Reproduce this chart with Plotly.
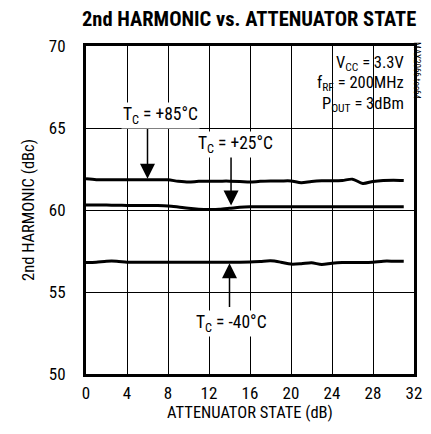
import plotly.graph_objects as go

# attenuator state (dB)
atten = list(range(32))

# 2nd harmonic (dBc) per case temperature
h2_85 = [61.9, 61.85, 61.85, 61.85, 61.85, 61.85, 61.85, 61.85, 61.84, 61.75, 61.7, 61.75,
         61.76, 61.76, 61.76, 61.74, 61.7, 61.75, 61.77, 61.77, 61.77, 61.66, 61.74, 61.78,
         61.78, 61.8, 61.88, 61.62, 61.74, 61.8, 61.82, 61.8]
h2_25 = [60.3, 60.3, 60.3, 60.29, 60.28, 60.27, 60.27, 60.27, 60.25, 60.18, 60.1, 60.05,
         60.03, 60.04, 60.1, 60.17, 60.2, 60.2, 60.2, 60.2, 60.2, 60.2, 60.2, 60.2,
         60.2, 60.2, 60.2, 60.2, 60.2, 60.2, 60.2, 60.2]
h2_m40 = [56.8, 56.82, 56.88, 56.88, 56.82, 56.82, 56.82, 56.82, 56.82, 56.82, 56.82, 56.82,
          56.82, 56.82, 56.82, 56.82, 56.83, 56.86, 56.9, 56.82, 56.7, 56.72, 56.78, 56.68,
          56.76, 56.8, 56.8, 56.8, 56.82, 56.88, 56.88, 56.87]

x_ticks = [0, 4, 8, 12, 16, 20, 24, 28, 32]
y_ticks = [50, 55, 60, 65, 70]

FONT = "Liberation Sans Narrow, Arial Narrow, Roboto Condensed, Liberation Sans, sans-serif"

fig = go.Figure()
for ys in (h2_85, h2_25, h2_m40):
    fig.add_trace(
        go.Scatter(
            x=atten,
            y=ys,
            mode="lines",
            line=dict(color="black", width=3, shape="spline", smoothing=0.8),
            showlegend=False,
            hoverinfo="skip",
        )
    )

# curve labels with arrows
labels = [
    ("T<sub>C</sub> = +85°C", 7.3, 65.75, 6.0, 61.9, 6.0, 65.3),
    ("T<sub>C</sub> = +25°C", 14.6, 64.0, 14.15, 60.28, 14.15, 63.35),
    ("T<sub>C</sub> = -40°C", 14.2, 53.1, 14.0, 56.75, 14.0, 54.0),
]
for text, tx, ty, hx, hy, tlx, tly in labels:
    fig.add_annotation(
        x=hx, y=hy, ax=tlx, ay=tly, xref="x", yref="y", axref="x", ayref="y",
        text="", showarrow=True, arrowhead=2, arrowsize=2, arrowwidth=1.5,
        arrowcolor="black",
    )
    fig.add_annotation(
        x=tx, y=ty, xref="x", yref="y", text=text, showarrow=False,
        font=dict(size=17.5, color="black", family=FONT), bgcolor="white",
    )

for i, txt in enumerate(["V<sub>CC</sub> = 3.3V", "f<sub>RF</sub> = 200MHz", "P<sub>OUT</sub> = 3dBm"]):
    fig.add_annotation(
        x=31.2, y=68.95 - i * 1.25, xref="x", yref="y", xanchor="right", yanchor="middle",
        text=txt, showarrow=False, font=dict(size=16.5, color="black", family=FONT),
    )

fig.add_annotation(
    x=1.0, y=1.0, xref="paper", yref="paper", xanchor="center", yanchor="top",
    xshift=3, yshift=6, text="MAX2066 toc64", textangle=90, showarrow=False,
    font=dict(size=9, color="black", family=FONT),
)

# page body has an 8px margin, so the figure is a bit smaller than the window
fig.update_layout(
    width=415,
    height=418,
    margin=dict(l=78, r=9, t=38, b=52),
    paper_bgcolor="white",
    plot_bgcolor="white",
    font=dict(family=FONT, size=17, color="black"),
    title=dict(
        text="<b>2nd HARMONIC vs. ATTENUATOR STATE</b>",
        x=0.581, xanchor="center", y=0.974, yanchor="middle",
        font=dict(size=20.5, family=FONT, color="black"),
    ),
)
fig.update_xaxes(
    range=[0, 32], tickvals=x_ticks, showgrid=True, gridcolor="black", gridwidth=1,
    showline=True, linecolor="black", linewidth=3, mirror=True, zeroline=False,
    ticks="", ticklabelstandoff=2, tickfont=dict(size=17), automargin=False,
    title=dict(text="ATTENUATOR STATE (dB)", font=dict(size=16.5), standoff=4),
)
fig.update_yaxes(
    range=[50, 70], tickvals=y_ticks, showgrid=True, gridcolor="black", gridwidth=1,
    showline=True, linecolor="black", linewidth=3, mirror=True, zeroline=False,
    ticks="", ticklabelstandoff=14, tickfont=dict(size=17), automargin=False,
    title=dict(text="2nd HARMONIC (dBc)", font=dict(size=16.5), standoff=11),
)

fig.write_html("out.html")
